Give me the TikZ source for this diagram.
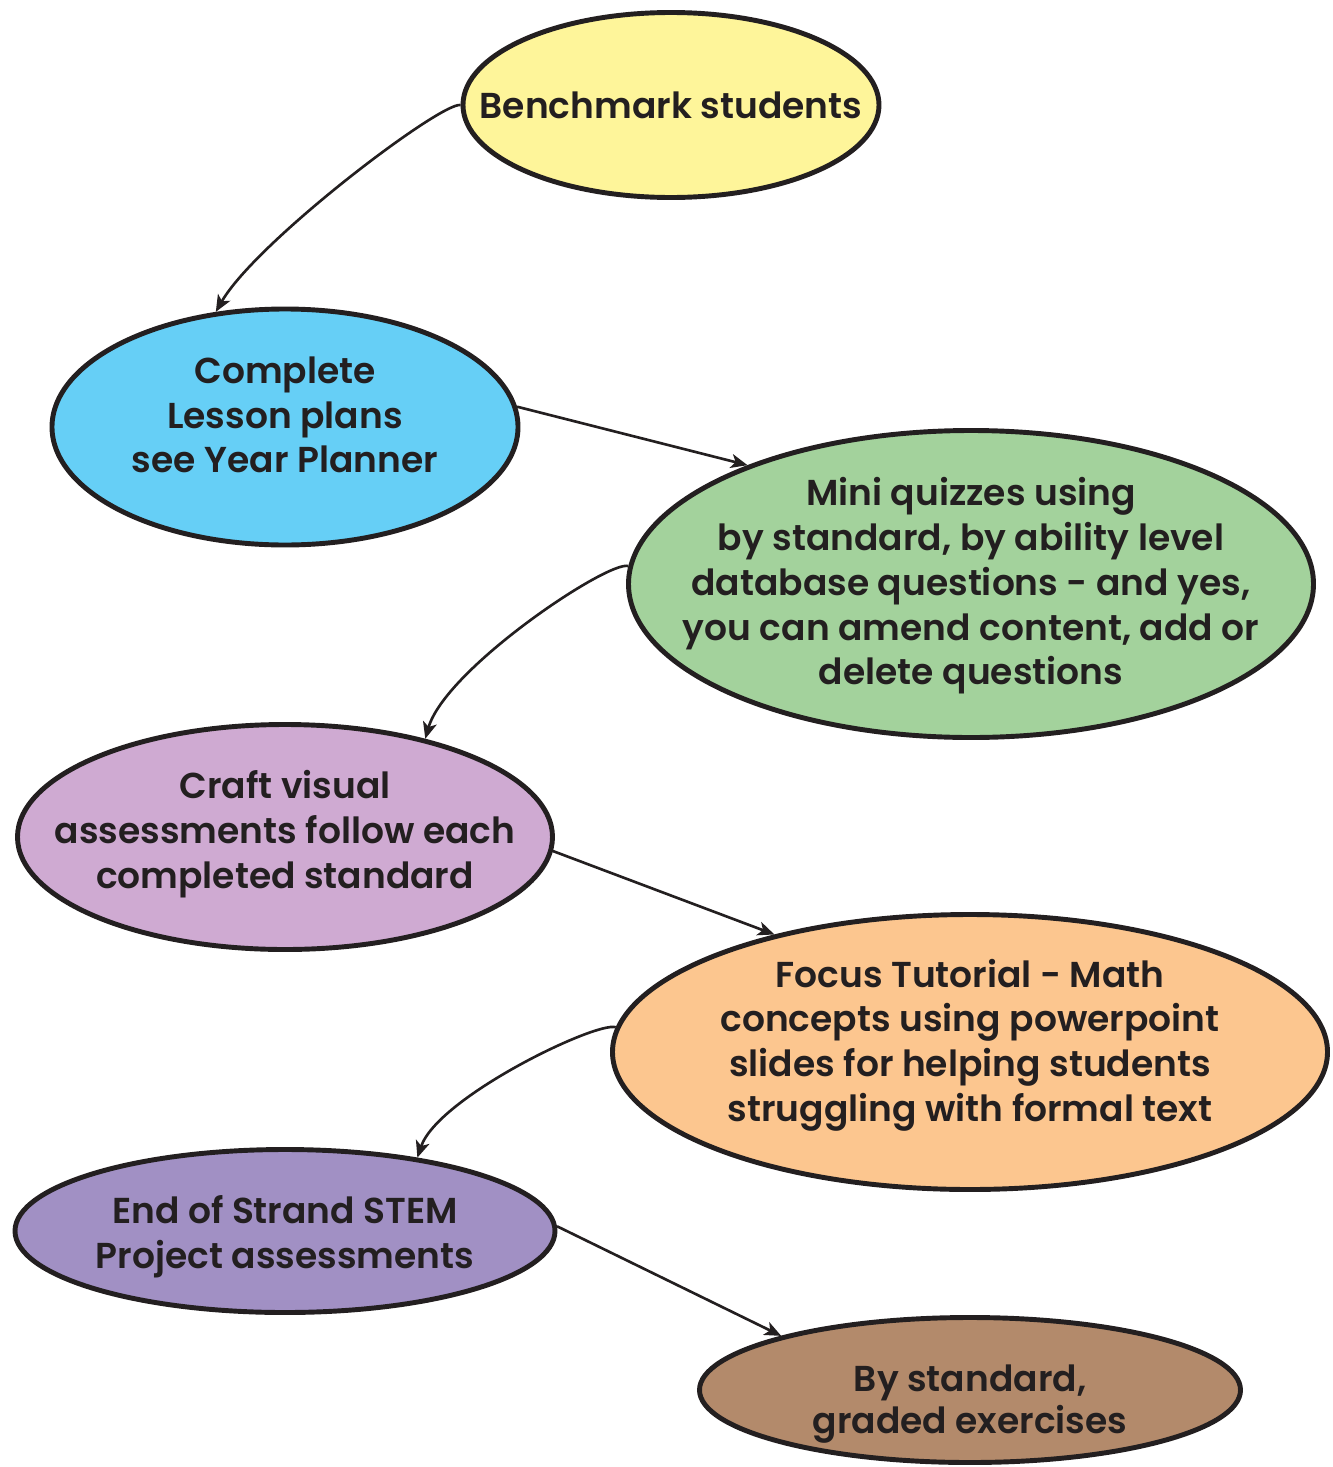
\documentclass[tikz,border=0pt]{standalone}
\usepackage{fontspec}
\setmainfont{Poppins}[BoldFont={Poppins SemiBold}]
\usetikzlibrary{arrows.meta,shapes.geometric}
\definecolor{ink}{HTML}{231F20}
\definecolor{cyel}{HTML}{FEF59A}
\definecolor{cblu}{HTML}{66CFF6}
\definecolor{cgrn}{HTML}{A3D29C}
\definecolor{cpur}{HTML}{CFAAD2}
\definecolor{cora}{HTML}{FCC68F}
\definecolor{clav}{HTML}{A190C4}
\definecolor{cbrn}{HTML}{B38A6B}
\tikzset{
  oval/.style={ellipse,draw=ink,line width=2.8pt,inner sep=0pt},
  lbl/.style={align=center,inner sep=0pt,text=ink,font=\fontsize{20.5}{25.5}\selectfont\bfseries},
  conn/.style={draw=ink,line width=1.5pt,-{Stealth[length=9.5pt,width=8pt,inset=2.5pt]}}
}
\begin{document}
\begin{tikzpicture}[x=0.02cm,y=-0.02cm]
\useasboundingbox (0,0) rectangle (1332,1467);
\node[oval,fill=cyel,minimum width={416*0.02cm},minimum height={185*0.02cm}] (b1) at (671,105) {};
\node[oval,fill=cblu,minimum width={466*0.02cm},minimum height={236*0.02cm}] (b2) at (285,427) {};
\node[oval,fill=cgrn,minimum width={685*0.02cm},minimum height={307*0.02cm}] (b3) at (971,584) {};
\node[oval,fill=cpur,minimum width={535*0.02cm},minimum height={225*0.02cm}] (b4) at (285,837) {};
\node[oval,fill=cora,minimum width={715*0.02cm},minimum height={275*0.02cm}] (b5) at (970,1052) {};
\node[oval,fill=clav,minimum width={540*0.02cm},minimum height={163*0.02cm}] (b6) at (285,1231) {};
\node[oval,fill=cbrn,minimum width={541*0.02cm},minimum height={145*0.02cm}] (b7) at (970,1390) {};
\node[lbl] (t1) at (671,105) {Benchmark students};
\node[lbl] (t2) at (285,415) {Complete\\Lesson plans\\see Year Planner};
\node[lbl] (t3) at (971,586) {Mini quizzes using\\by standard, by ability level\\database questions - and yes,\\you can amend content, add or\\delete questions};
\node[lbl] (t4) at (285,834) {Craft visual\\assessments follow each\\completed standard};
\node[lbl] (t5) at (970,1045) {Focus Tutorial - Math\\concepts using powerpoint\\slides for helping students\\struggling with formal text};
\node[lbl] (t6) at (285,1237) {End of Strand STEM\\Project assessments};
\node[lbl,font=\fontsize{20.5}{24}\selectfont\bfseries] (t7) at (970,1404) {By standard,\\graded exercises};
\draw[conn] (b1.180) .. controls +(-20,-3) and +(40,-70) .. (b2.121);
\draw[conn] (b2.5) -- (b3.152);
\draw[conn] (b3.177) .. controls +(-20,-6) and +(20,-70) .. (b4.35);
\draw[conn] (b4.-3) -- (b5.149);
\draw[conn] (b5.176) .. controls +(-20,-6) and +(20,-60) .. (b6.29);
\draw[conn] (b6.1) -- (b7.164);
\end{tikzpicture}
\end{document}
